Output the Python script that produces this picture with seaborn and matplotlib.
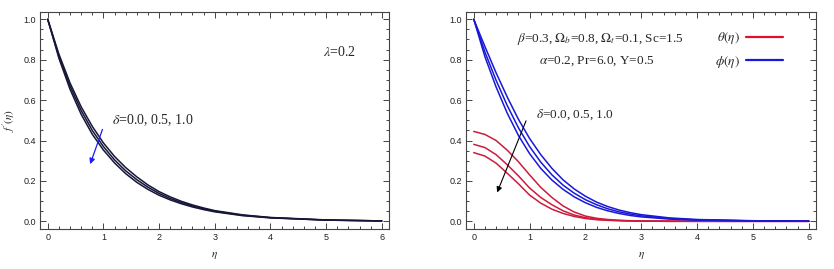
import numpy as np
import pandas as pd
import matplotlib
matplotlib.use('Agg')
import matplotlib.pyplot as plt
from matplotlib.ticker import MultipleLocator, FormatStrFormatter
from matplotlib.lines import Line2D
import seaborn as sns

sns.set_style('ticks')
plt.rcParams['font.family'] = ['Liberation Serif', 'DejaVu Serif']
plt.rcParams['mathtext.fontset'] = 'stix'

# values
eta = [0, 0.2, 0.4, 0.6, 0.8, 1.0, 1.2, 1.4, 1.6, 1.8, 2.0, 2.2, 2.4, 2.6, 2.8, 3.0, 3.5, 4.0, 5.0, 6.0]
deltas = ['0.0', '0.5', '1.0']

fp_d0 = [1.0, 0.828, 0.685, 0.567, 0.470, 0.388, 0.321, 0.266, 0.220, 0.180, 0.147, 0.121, 0.099, 0.081, 0.066, 0.053, 0.032, 0.019, 0.007, 0.002]
fp_d5 = [1.0, 0.818, 0.670, 0.549, 0.450, 0.370, 0.304, 0.250, 0.206, 0.169, 0.138, 0.113, 0.093, 0.076, 0.062, 0.050, 0.030, 0.018, 0.006, 0.002]
fp_d10 = [1.0, 0.808, 0.654, 0.530, 0.431, 0.353, 0.289, 0.236, 0.193, 0.158, 0.129, 0.106, 0.087, 0.071, 0.058, 0.047, 0.028, 0.017, 0.006, 0.002]

theta_d0 = [0.445, 0.430, 0.400, 0.352, 0.295, 0.230, 0.168, 0.118, 0.076, 0.046, 0.026, 0.015, 0.009, 0.005, 0.003, 0.002, 0.001, 0.0, 0.0, 0.0]
theta_d5 = [0.381, 0.365, 0.330, 0.280, 0.225, 0.165, 0.118, 0.082, 0.052, 0.031, 0.018, 0.010, 0.006, 0.004, 0.002, 0.001, 0.0, 0.0, 0.0, 0.0]
theta_d10 = [0.340, 0.323, 0.288, 0.238, 0.186, 0.130, 0.090, 0.060, 0.039, 0.024, 0.014, 0.008, 0.005, 0.003, 0.002, 0.001, 0.0, 0.0, 0.0, 0.0]

phi_d0 = [1.0, 0.865, 0.735, 0.615, 0.505, 0.410, 0.330, 0.262, 0.205, 0.160, 0.124, 0.095, 0.073, 0.056, 0.043, 0.033, 0.017, 0.009, 0.003, 0.001]
phi_d5 = [1.0, 0.838, 0.698, 0.573, 0.463, 0.370, 0.293, 0.230, 0.179, 0.139, 0.107, 0.082, 0.062, 0.047, 0.036, 0.027, 0.014, 0.007, 0.002, 0.001]
phi_d10 = [1.0, 0.815, 0.665, 0.535, 0.425, 0.335, 0.262, 0.204, 0.158, 0.121, 0.092, 0.069, 0.052, 0.039, 0.029, 0.022, 0.011, 0.006, 0.002, 0.001]


def long_df(series):
    rows = []
    for d, vals in zip(deltas, series):
        for e, v in zip(eta, vals):
            rows.append({'eta': e, 'value': v, 'delta': d})
    return pd.DataFrame(rows)


df_fp = long_df([fp_d0, fp_d5, fp_d10])
df_theta = long_df([theta_d0, theta_d5, theta_d10])
df_phi = long_df([phi_d0, phi_d5, phi_d10])

navy = '#161638'
red = '#cc1c3c'
blue = '#1818d8'

fig = plt.figure(figsize=(8.34, 2.69), dpi=100)
ax1 = fig.add_axes([0.048, 0.1487, 0.4185, 0.8067])
ax2 = fig.add_axes([0.5588, 0.1487, 0.4197, 0.8067])

sns.lineplot(data=df_fp, x='eta', y='value', units='delta', estimator=None,
             color=navy, lw=1.1, ax=ax1)
sns.lineplot(data=df_theta, x='eta', y='value', units='delta', estimator=None,
             color=red, lw=1.1, ax=ax2)
sns.lineplot(data=df_phi, x='eta', y='value', units='delta', estimator=None,
             color=blue, lw=1.1, ax=ax2)

for ax in (ax1, ax2):
    ax.set_xlim(-0.138, 6.13)
    ax.set_ylim(-0.038, 1.036)
    ax.xaxis.set_major_locator(MultipleLocator(1))
    ax.xaxis.set_minor_locator(MultipleLocator(0.2))
    ax.yaxis.set_major_locator(MultipleLocator(0.2))
    ax.yaxis.set_minor_locator(MultipleLocator(0.05))
    ax.yaxis.set_major_formatter(FormatStrFormatter('%.1f'))
    ax.tick_params(which='both', direction='in', top=True, right=True,
                   color='#444444', width=0.7, labelsize=6.5, labelcolor='#222222')
    ax.tick_params(which='major', length=4, pad=3)
    ax.tick_params(which='minor', length=2)
    for lab in ax.get_xticklabels() + ax.get_yticklabels():
        lab.set_family(['Liberation Sans', 'DejaVu Sans'])
    for s in ax.spines.values():
        s.set_color('#444444')
        s.set_linewidth(0.8)
    ax.set_xlabel(r'$\eta$', fontsize=8, labelpad=6)
    ax.set_ylabel('')

ax1.set_ylabel(r"$f'(\eta)$", fontsize=8, labelpad=4)

# left panel annotations
ax1.text(4.94, 0.838, r'$\lambda$=0.2', fontsize=10, va='center')
ax1.text(1.154, 0.50, r'$\delta$=0.0, 0.5, 1.0', fontsize=10, va='center')
ax1.annotate('', xy=(0.746, 0.27), xytext=(1.0, 0.468),
             arrowprops=dict(arrowstyle='-|>', color='#1a1aff', lw=0.9,
                             mutation_scale=8))

# right panel annotations
ax2.text(2.26, 0.90, r'$\beta$=0.3, $\Omega_b$=0.8, $\Omega_t$=0.1, Sc=1.5',
         fontsize=9.5, ha='center', va='center')
ax2.text(2.21, 0.79, r'$\alpha$=0.2, Pr=6.0, Y=0.5',
         fontsize=9.5, ha='center', va='center')
ax2.text(1.116, 0.526, r'$\delta$=0.0, 0.5, 1.0', fontsize=9.5, va='center')
ax2.annotate('', xy=(0.40, 0.13), xytext=(0.955, 0.51),
             arrowprops=dict(arrowstyle='-|>', color='black', lw=0.8,
                             mutation_scale=8))

handles = [Line2D([], [], color='#e0102a', lw=1.6),
           Line2D([], [], color=blue, lw=1.6)]
ax2.legend(handles, [r'$\theta(\eta)$', r'$\phi(\eta)$'], markerfirst=False,
           frameon=False, fontsize=9.5, loc='upper right',
           bbox_to_anchor=(0.94, 0.97), handlelength=2.8, handletextpad=0.5,
           labelspacing=0.55)

fig.savefig('out.png', dpi=100)
